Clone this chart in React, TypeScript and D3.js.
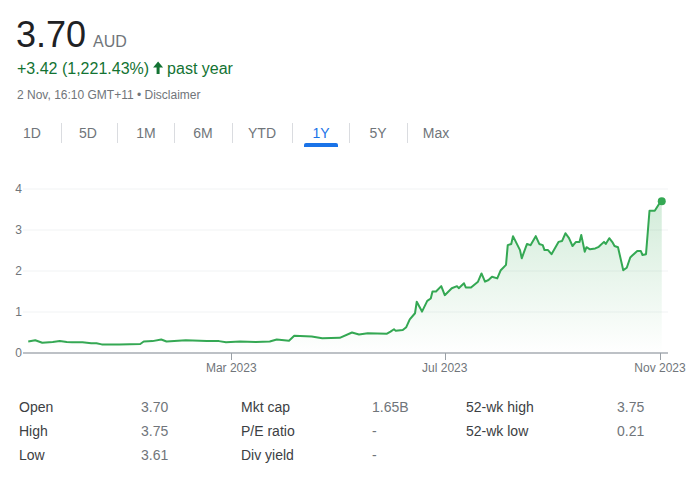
import { useEffect, useRef } from 'react';
import * as d3 from 'd3';

const dates = [
  '2022-11-05', '2022-11-09', '2022-11-13', '2022-11-19', '2022-11-23', '2022-11-27', '2022-11-30',
  '2022-12-06', '2022-12-11', '2022-12-14', '2022-12-17', '2022-12-27', '2023-01-08', '2023-01-10',
  '2023-01-15', '2023-01-20', '2023-01-23', '2023-02-03', '2023-02-15', '2023-02-22', '2023-02-26',
  '2023-03-06', '2023-03-15', '2023-03-23', '2023-03-27', '2023-04-03', '2023-04-06', '2023-04-16',
  '2023-04-22', '2023-05-02', '2023-05-09', '2023-05-13', '2023-05-18', '2023-05-29', '2023-05-31',
  '2023-06-02', '2023-06-03', '2023-06-07', '2023-06-09', '2023-06-11', '2023-06-14', '2023-06-15',
  '2023-06-18', '2023-06-21', '2023-06-23', '2023-06-24', '2023-06-26', '2023-06-29', '2023-07-01',
  '2023-07-05', '2023-07-08', '2023-07-09', '2023-07-12', '2023-07-13', '2023-07-16', '2023-07-20',
  '2023-07-22', '2023-07-24', '2023-07-26', '2023-07-28', '2023-07-31', '2023-08-02', '2023-08-05',
  '2023-08-06', '2023-08-08', '2023-08-09', '2023-08-13', '2023-08-14', '2023-08-17', '2023-08-19',
  '2023-08-22', '2023-08-24', '2023-08-26', '2023-08-27', '2023-08-29', '2023-08-31', '2023-09-04',
  '2023-09-06', '2023-09-08', '2023-09-10', '2023-09-12', '2023-09-14', '2023-09-16', '2023-09-17',
  '2023-09-19', '2023-09-20', '2023-09-22', '2023-09-25', '2023-09-27', '2023-09-30', '2023-10-01',
  '2023-10-03', '2023-10-05', '2023-10-06', '2023-10-08', '2023-10-11', '2023-10-13', '2023-10-15',
  '2023-10-16', '2023-10-19', '2023-10-21', '2023-10-22', '2023-10-24', '2023-10-26', '2023-10-29',
  '2023-11-01', '2023-11-02',
];

const prices = [
  0.28, 0.31, 0.25, 0.27, 0.29, 0.27, 0.26,
  0.26, 0.24, 0.24, 0.21, 0.21, 0.22, 0.28,
  0.29, 0.33, 0.28, 0.31, 0.29, 0.29, 0.26,
  0.28, 0.27, 0.28, 0.33, 0.30, 0.42, 0.40,
  0.36, 0.37, 0.50, 0.45, 0.48, 0.47, 0.52,
  0.58, 0.54, 0.56, 0.63, 0.82, 0.97, 1.25,
  1.01, 1.27, 1.33, 1.50, 1.50, 1.63, 1.41,
  1.58, 1.63, 1.58, 1.70, 1.60, 1.60, 1.74,
  1.94, 1.74, 1.78, 1.86, 1.82, 2.02, 2.15,
  2.63, 2.66, 2.85, 2.51, 2.31, 2.66, 2.63,
  2.85, 2.66, 2.63, 2.51, 2.51, 2.41, 2.71,
  2.73, 2.92, 2.80, 2.61, 2.71, 2.71, 2.88,
  2.47, 2.58, 2.53, 2.55, 2.59, 2.71, 2.66,
  2.80, 2.69, 2.61, 2.58, 2.02, 2.08, 2.33,
  2.37, 2.49, 2.49, 2.39, 2.41, 3.47, 3.47,
  3.67, 3.70,
];

const yTicks = [0, 1, 2, 3, 4];
const xTickDates = ['2023-03-01', '2023-07-01', '2023-11-01'];
const xTickLabels = ['Mar 2023', 'Jul 2023', 'Nov 2023'];

const ranges = ['1D', '5D', '1M', '6M', 'YTD', '1Y', '5Y', 'Max'];
const selectedRange = '1Y';

const statLabels = [
  ['Open', 'High', 'Low'],
  ['Mkt cap', 'P/E ratio', 'Div yield'],
  ['52-wk high', '52-wk low'],
];
const statValues = [
  ['3.70', '3.75', '3.61'],
  ['1.65B', '-', '-'],
  ['3.75', '0.21'],
];

const FONT = '"Liberation Sans", Arial, sans-serif';

interface Point {
  date: Date;
  price: number;
}

const App = () => {
  const svgRef = useRef<SVGSVGElement>(null);

  useEffect(() => {
    if (!svgRef.current) return;
    const svg = d3.select(svgRef.current);
    svg.selectAll('*').remove();

    const parse = d3.timeParse('%Y-%m-%d');
    const data: Point[] = dates.map((d, i) => ({ date: parse(d) as Date, price: prices[i] }));

    // Header
    svg.append('text')
      .attr('x', 16).attr('y', 47)
      .style('font-family', FONT).style('font-size', '36px').style('fill', '#202124')
      .text('3.70');
    svg.append('text')
      .attr('x', 93).attr('y', 47)
      .style('font-family', FONT).style('font-size', '16px').style('fill', '#70757a')
      .text('AUD');

    const changeText = svg.append('text')
      .attr('x', 17).attr('y', 74)
      .style('font-family', FONT).style('font-size', '16px').style('fill', '#137333')
      .text('+3.42 (1,221.43%)');
    const changeW = (changeText.node() as SVGTextElement).getComputedTextLength();
    const ax = 17 + changeW + 4;
    // bold up arrow
    svg.append('path')
      .attr('d', `M${ax},67.5 L${ax + 5},61.5 L${ax + 10},67.5 L${ax + 6.5},67.5 L${ax + 6.5},74 L${ax + 3.5},74 L${ax + 3.5},67.5 Z`)
      .attr('fill', '#137333');
    svg.append('text')
      .attr('x', ax + 14).attr('y', 74)
      .style('font-family', FONT).style('font-size', '16px').style('fill', '#137333')
      .text('past year');

    svg.append('text')
      .attr('x', 17).attr('y', 99)
      .style('font-family', FONT).style('font-size', '12px').style('fill', '#70757a')
      .text('2 Nov, 16:10 GMT+11 \u2022 Disclaimer');

    // Range tabs
    const tabCenters = [32, 88, 146, 203, 262, 321, 378, 436];
    const separators = [61, 117, 174, 232, 292, 349, 407];
    const tabs = svg.append('g');
    tabs.selectAll('text')
      .data(ranges)
      .join('text')
      .attr('x', (_, i) => tabCenters[i])
      .attr('y', 138)
      .attr('text-anchor', 'middle')
      .style('font-family', FONT).style('font-size', '14px')
      .style('fill', d => (d === selectedRange ? '#1a73e8' : '#70757a'))
      .text(d => d);
    tabs.selectAll('line')
      .data(separators)
      .join('line')
      .attr('x1', d => d + 0.5).attr('x2', d => d + 0.5)
      .attr('y1', 123).attr('y2', 143)
      .attr('stroke', '#dadce0');
    const selIdx = ranges.indexOf(selectedRange);
    tabs.append('path')
      .attr('d', `M${tabCenters[selIdx] - 17},147 v-2 a2,2 0 0 1 2,-2 h30 a2,2 0 0 1 2,2 v2 z`)
      .attr('fill', '#1a73e8');

    // Chart
    const x = d3.scaleTime()
      .domain([parse('2022-11-02') as Date, parse('2023-11-05') as Date])
      .range([23, 667]);
    const y = d3.scaleLinear().domain([0, 4]).range([353, 189]);

    svg.append('g')
      .selectAll('line')
      .data(yTicks.filter(t => t > 0))
      .join('line')
      .attr('x1', 23).attr('x2', 668)
      .attr('y1', d => y(d)).attr('y2', d => y(d))
      .attr('stroke', '#f1f3f4').attr('stroke-width', 1);

    svg.append('g')
      .selectAll('text')
      .data(yTicks)
      .join('text')
      .attr('x', 22).attr('y', d => y(d) + 4)
      .attr('text-anchor', 'end')
      .style('font-family', FONT).style('font-size', '12px').style('fill', '#70757a')
      .text(d => d);

    const defs = svg.append('defs');
    const grad = defs.append('linearGradient')
      .attr('id', 'areaFill')
      .attr('gradientUnits', 'userSpaceOnUse')
      .attr('x1', 0).attr('x2', 0)
      .attr('y1', y(d3.max(prices) || 0)).attr('y2', y(0));
    grad.append('stop').attr('offset', '0%').attr('stop-color', '#34a853').attr('stop-opacity', 0.22);
    grad.append('stop').attr('offset', '100%').attr('stop-color', '#34a853').attr('stop-opacity', 0);

    const area = d3.area<Point>()
      .x(d => x(d.date))
      .y0(y(0))
      .y1(d => y(d.price));
    svg.append('path')
      .datum(data)
      .attr('d', area)
      .attr('fill', 'url(#areaFill)');

    // Baseline and ticks
    svg.append('line')
      .attr('x1', 23).attr('x2', 668)
      .attr('y1', y(0)).attr('y2', y(0))
      .attr('stroke', '#bdc1c6').attr('stroke-width', 2);

    const tickDates = xTickDates.map(d => parse(d) as Date);
    svg.append('g')
      .selectAll('line')
      .data(tickDates)
      .join('line')
      .attr('x1', d => Math.round(x(d)) + 0.5).attr('x2', d => Math.round(x(d)) + 0.5)
      .attr('y1', y(0)).attr('y2', y(0) + 7)
      .attr('stroke', '#9aa0a6');
    svg.append('g')
      .selectAll('text')
      .data(tickDates)
      .join('text')
      .attr('x', d => x(d)).attr('y', 372)
      .attr('text-anchor', 'middle')
      .style('font-family', FONT).style('font-size', '12px').style('fill', '#70757a')
      .text((_, i) => xTickLabels[i]);

    const line = d3.line<Point>()
      .x(d => x(d.date))
      .y(d => y(d.price));
    svg.append('path')
      .datum(data)
      .attr('d', line)
      .attr('fill', 'none')
      .attr('stroke', '#34a853')
      .attr('stroke-width', 2)
      .attr('stroke-linejoin', 'round');

    const last = data[data.length - 1];
    svg.append('circle')
      .attr('cx', x(last.date)).attr('cy', y(last.price))
      .attr('r', 4)
      .attr('fill', '#34a853');

    // Stats table
    const colX = [19, 241, 466];
    const valX = [141, 372, 617];
    const rowY = [412, 436, 460];
    statLabels.forEach((col, c) => {
      col.forEach((label, r) => {
        svg.append('text')
          .attr('x', colX[c]).attr('y', rowY[r])
          .style('font-family', FONT).style('font-size', '14px').style('fill', '#3c4043')
          .text(label);
        svg.append('text')
          .attr('x', valX[c]).attr('y', rowY[r])
          .style('font-family', FONT).style('font-size', '14px').style('fill', '#70757a')
          .text(statValues[c][r]);
      });
    });
  }, []);

  return (
    <svg
      ref={svgRef}
      width={696}
      height={478}
      style={{ position: 'absolute', left: 0, top: 0, background: '#fff' }}
    />
  );
};

export default App;
